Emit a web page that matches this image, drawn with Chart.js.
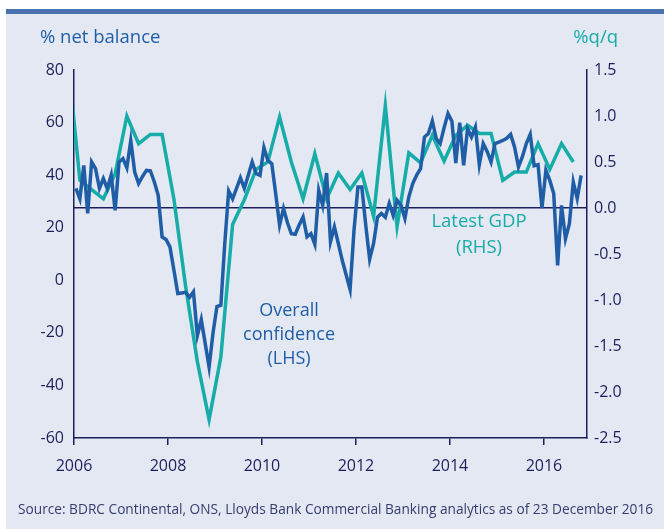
<!DOCTYPE html>
<html>
<head>
  <meta charset="utf-8">
  <script src="https://cdn.jsdelivr.net/npm/chart.js@4"></script>
  <title>Business confidence and GDP</title>
  <style>
    html, body { margin: 0; padding: 0; background: #fff; }
  </style>
</head>
<body>
  <canvas id="confChart" width="664" height="529"></canvas>

  <script>
    // Overall business confidence, % net balance, monthly from Jan 2006 (LHS)
    const confidence = [
      35, 31, 43.7, 25.5, 45, 42.5, 35, 38.7, 34.9, 40, 26.6, 45,          // 2006
      46.3, 42.8, 53.2, 41.2, 36.8, 39.5, 41.8, 41.6, 37.5, 32.3, 16.5, 15.5, // 2007
      12.7, 4, -5, -4.8, -4.6, -6.5, -4.4, -21, -15, -24, -33, -20,         // 2008
      -10, -9.5, 14, 34, 31, 35, 39, 35, 40, 45, 40.6, 39.9,                // 2009
      50.5, 45.6, 44.4, 33, 21, 27.3, 22, 17.7, 17.5, 21, 24.1, 16.5,       // 2010
      17.7, 13.7, 34.2, 28.5, 40.8, 14.6, 20.3, 14, 7.6, 2, -3.5, 19,       // 2011
      35.5, 35.5, 21, 8, 14, 24, 25.4, 24, 29.2, 24.7, 30.4, 28.5,          // 2012
      23.5, 31.7, 36.8, 40, 42.5, 54.5, 55.8, 60.6, 53.9, 52, 58, 63.4,     // 2013
      60.5, 44.6, 60, 43.7, 57.7, 54.5, 58.3, 44, 52, 49, 45, 52,           // 2014
      52.6, 53.2, 54, 55.5, 50.7, 43.1, 47, 52, 55.5, 43.6, 44, 27.5,       // 2015
      41.8, 38, 33, 5.7, 28.5, 15.8, 21.5, 37.4, 31.1, 39.9                 // 2016
    ];
    const confidenceStart = 2006;

    // GDP growth, % q/q, quarterly from 2005 Q4 (RHS)
    const gdpGrowth = [
      1.6,
      0.30, 0.20, 0.10, 0.37,     // 2006
      1.00, 0.70, 0.80, 0.80,     // 2007
      0.10, -0.85, -1.67, -2.30,  // 2008
      -1.62, -0.18, 0.09, 0.42,   // 2009
      0.50, 0.99, 0.50, 0.10,     // 2010
      0.59, 0.10, 0.38, 0.20,     // 2011
      0.38, -0.09, 1.11, -0.20,   // 2012
      0.60, 0.49, 0.79, 0.51,     // 2013
      0.79, 0.90, 0.81, 0.81,     // 2014
      0.30, 0.39, 0.39, 0.70,     // 2015
      0.42, 0.70, 0.50            // 2016
    ];
    const gdpStart = 2005.75;

    const yearTicks = [2006, 2008, 2010, 2012, 2014, 2016];
    const sourceNote = 'Source: BDRC Continental, ONS, Lloyds Bank Commercial Banking analytics as of 23 December 2016';

    const navy = '#1d1f5c';
    const blue = '#1f5ea6';
    const teal = '#16aca7';
    const fontFamily = '"Open Sans", sans-serif';

    // monthly points sit mid-month, quarterly points mid-quarter
    const confPoints = confidence.map((v, i) => ({ x: confidenceStart + (i + 0.5) / 12, y: v }));
    const gdpPoints = gdpGrowth.map((v, i) => ({ x: gdpStart + (i + 0.5) / 4, y: v }));

    const frame = {
      id: 'frame',
      beforeDraw(chart) {
        const c = chart.ctx;
        c.save();
        c.fillStyle = '#ffffff';
        c.fillRect(0, 0, chart.width, chart.height);
        c.fillStyle = '#e3e8f3';
        c.fillRect(6, 9, chart.width - 6, chart.height - 9);
        c.fillStyle = '#4a72b1';
        c.fillRect(6, 9, chart.width - 6, 5);
        c.restore();
      },
      afterDraw(chart) {
        const c = chart.ctx;
        c.save();
        c.textBaseline = 'middle';
        c.font = '18.5px ' + fontFamily;
        c.fillStyle = blue;
        c.textAlign = 'left';
        c.fillText('% net balance', 40, 38);
        c.fillStyle = teal;
        c.textAlign = 'right';
        c.fillText('%q/q', 618, 38);

        c.font = '18px ' + fontFamily;
        c.textAlign = 'center';
        c.fillStyle = blue;
        c.fillText('Overall', 289, 311);
        c.fillText('confidence', 289, 335);
        c.fillText('(LHS)', 289, 359);
        c.fillStyle = teal;
        c.font = '18.5px ' + fontFamily;
        c.fillText('Latest GDP', 479, 222);
        c.fillText('(RHS)', 479, 248);

        c.font = '13.7px ' + fontFamily;
        c.fillStyle = '#373c6e';
        c.textAlign = 'left';
        c.fillText(sourceNote, 18, 510);
        c.restore();
      }
    };

    const tickFont = { family: fontFamily, size: 16 };

    const ctx = document.getElementById('confChart').getContext('2d');
    const chart = new Chart(ctx, {
      type: 'line',
      data: {
        datasets: [{
          label: 'Overall confidence (LHS)',
          data: confPoints,
          yAxisID: 'y',
          borderColor: blue,
          borderWidth: 3.5,
          pointRadius: 0,
          tension: 0
        }, {
          label: 'Latest GDP (RHS)',
          data: gdpPoints,
          yAxisID: 'y2',
          borderColor: teal,
          borderWidth: 3.5,
          pointRadius: 0,
          tension: 0
        }]
      },
      options: {
        responsive: false,
        animation: false,
        layout: { padding: { top: 70 } },
        plugins: { legend: { display: false }, tooltip: { enabled: false } },
        scales: {
          x: {
            type: 'linear',
            min: 2006,
            max: 2006 + 131 / 12,
            afterFit: s => { s.height = 91; },
            afterBuildTicks: s => { s.ticks = yearTicks.map(v => ({ value: v })); },
            border: { color: navy, width: 1.5 },
            grid: { drawOnChartArea: false, drawTicks: true, tickLength: 7, color: navy, lineWidth: 1.5 },
            ticks: { color: navy, font: tickFont, padding: 12, maxRotation: 0, autoSkip: false, callback: v => String(v) }
          },
          y: {
            position: 'left',
            min: -60,
            max: 80,
            afterFit: s => { s.width = 74; },
            border: { color: navy, width: 1.5 },
            grid: { display: false, drawTicks: false },
            ticks: { stepSize: 20, color: navy, font: tickFont, padding: 10, callback: v => String(v) }
          },
          y2: {
            position: 'right',
            min: -2.5,
            max: 1.5,
            afterFit: s => { s.width = 77; },
            border: { color: navy, width: 1.5 },
            grid: {
              drawTicks: false,
              lineWidth: 1.5,
              color: c => (c.tick && c.tick.value === 0 ? navy : 'rgba(0,0,0,0)')
            },
            ticks: { stepSize: 0.5, color: navy, font: tickFont, padding: 7, callback: v => v.toFixed(1) }
          }
        }
      },
      plugins: [frame]
    });
  </script>
</body>
</html>
